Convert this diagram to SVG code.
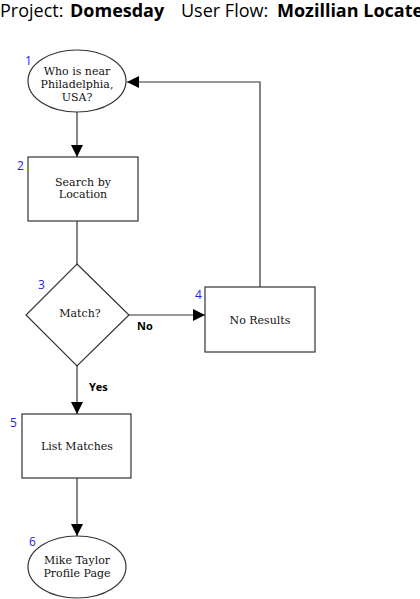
<svg xmlns="http://www.w3.org/2000/svg" width="420" height="599" viewBox="0 0 420 599">
<style>
.t{font-family:"Open Sans","Noto Sans",sans-serif;font-size:18px;fill:#000}
.b{font-weight:bold}
.s{fill:#fff;stroke:#333;stroke-width:1.2}
.lbl{font-family:"DejaVu Serif","Liberation Serif",serif;font-size:11px;fill:#111;text-anchor:middle}
.num{font-family:"Open Sans","Noto Sans",sans-serif;font-size:12px;fill:#2222ee}
.yn{font-family:"Open Sans","Noto Sans",sans-serif;font-size:11px;font-weight:bold;fill:#000}
.c{fill:none;stroke:#333;stroke-width:1.2}
</style>
<defs>
<marker id="ah" markerWidth="12" markerHeight="12" refX="12" refY="6" orient="auto" markerUnits="userSpaceOnUse">
<path d="M0,0 L12,6 L0,12 Z" fill="#000"/>
</marker>
</defs>
<rect width="420" height="599" fill="#fff"/>
<g id="title">
<text class="t" x="0" y="17">Project:</text>
<text class="t b" x="70" y="17">Domesday</text>
<text class="t" x="181" y="17">User Flow:</text>
<text class="t b" x="277" y="17">Mozillian Locate</text>
</g>
<g id="connectors">
<line class="c" x1="77" y1="112" x2="77" y2="157" marker-end="url(#ah)"/>
<line class="c" x1="77" y1="221" x2="77" y2="264"/>
<line class="c" x1="129" y1="315" x2="205" y2="315" marker-end="url(#ah)"/>
<polyline class="c" points="260,287 260,82 127,82" marker-end="url(#ah)"/>
<line class="c" x1="77" y1="366" x2="77" y2="414" marker-end="url(#ah)"/>
<line class="c" x1="77" y1="478" x2="77" y2="536" marker-end="url(#ah)"/>
<text class="yn" x="137" y="330">No</text>
<text class="yn" x="89" y="391">Yes</text>
</g>
<g id="n1">
<ellipse class="s" cx="77" cy="81" rx="49" ry="31"/>
<text class="num" x="25" y="65">1</text>
<text class="lbl" x="77" y="75">Who is near</text>
<text class="lbl" x="77" y="88">Philadelphia,</text>
<text class="lbl" x="77" y="101">USA?</text>
</g>
<g id="n2">
<rect class="s" x="28" y="157" width="110" height="64"/>
<text class="num" x="17" y="170">2</text>
<text class="lbl" x="83" y="186">Search by</text>
<text class="lbl" x="83" y="198">Location</text>
</g>
<g id="n3">
<polygon class="s" points="77,264 129,315 77,366 26,315"/>
<text class="num" x="38" y="289">3</text>
<text class="lbl" x="80" y="317">Match?</text>
</g>
<g id="n4">
<rect class="s" x="205" y="287" width="110" height="65"/>
<text class="num" x="195" y="299">4</text>
<text class="lbl" x="260" y="324">No Results</text>
</g>
<g id="n5">
<rect class="s" x="22" y="414" width="109" height="64"/>
<text class="num" x="10" y="427">5</text>
<text class="lbl" x="77" y="450">List Matches</text>
</g>
<g id="n6">
<ellipse class="s" cx="77" cy="567" rx="49" ry="31"/>
<text class="num" x="29" y="546">6</text>
<text class="lbl" x="77" y="564">Mike Taylor</text>
<text class="lbl" x="77" y="577">Profile Page</text>
</g>
</svg>
